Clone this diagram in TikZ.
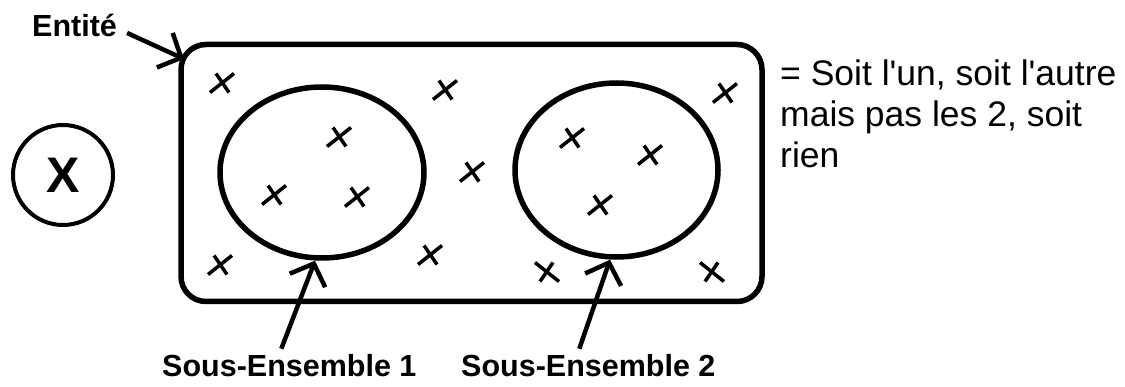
\documentclass[tikz,border=0pt]{standalone}
\usepackage{fontspec}
\setmainfont{Liberation Sans}
\usetikzlibrary{arrows.meta,shapes.geometric}

\begin{document}
\begin{tikzpicture}[x=1pt,y=-1pt,
        etiquette/.style={font=\fontsize{30.5}{36}\selectfont\bfseries, inner sep=3pt},
        fleche/.style={line width=4.5pt, -{Straight Barb[length=18pt,width=38pt]}},
        contour/.style={draw, line width=5.5pt},
        croix/.pic={\draw[line width=3.5pt] (-12,9.5) -- (12,-9.5) (-6,-9.5) -- (7,9.5);}]
        \useasboundingbox (0,0) rectangle (1125,387);
        %% entity and its two sub-sets
        \node[contour, rectangle, rounded corners=25pt, minimum width=581pt, minimum height=257pt] (boite) at (471.5,173) {};
        \node[contour, ellipse, minimum width=204pt, minimum height=171pt] (ens1) at (322,172.5) {};
        \node[contour, ellipse, minimum width=203pt, minimum height=174pt] (ens2) at (616.5,170) {};
        %% elements
        \foreach \pos in {(222,83),(445,90),(339,137),(274,195),(357,197),(472,172),(430,255),(220,265),(725,93),(572,138),(650,155),(600,205)}
            \pic at \pos {croix};
        \foreach \pos in {(547,272),(712,272)}
            \pic[xscale=-1] at \pos {croix};
        %% X on the left
        \node[draw, circle, line width=4pt, minimum size=100pt, inner sep=0pt, font=\fontsize{50}{60}\selectfont\bfseries] (varX) at (63,175) {X};
        %% labels
        \node[etiquette, anchor=base west] (entite) at (29,37) {Entité};
        \node[etiquette, anchor=base west] (sousEns1) at (159,377) {Sous-Ensemble 1};
        \node[etiquette, anchor=base west] (sousEns2) at (458,377) {Sous-Ensemble 2};
        \node[anchor=north west, inner sep=0pt, align=left, font=\fontsize{35.5}{41}\selectfont] (legende) at (780,60) {= Soit l\textquotesingle un, soit l\textquotesingle autre\\mais pas les 2, soit\\rien};
        %% arrows
        \coordinate (coinBoite) at (184,59);
        \draw[fleche] ([xshift=7pt,yshift=-7pt]entite.east) -- (coinBoite);
        \draw[fleche] ([xshift=-8pt,yshift=3pt]sousEns1.north) -- ([xshift=-7pt]ens1.south);
        \draw[fleche] ([xshift=-9pt,yshift=3pt]sousEns2.north) -- ([xshift=-6.5pt]ens2.south);
    \end{tikzpicture}
\end{document}
